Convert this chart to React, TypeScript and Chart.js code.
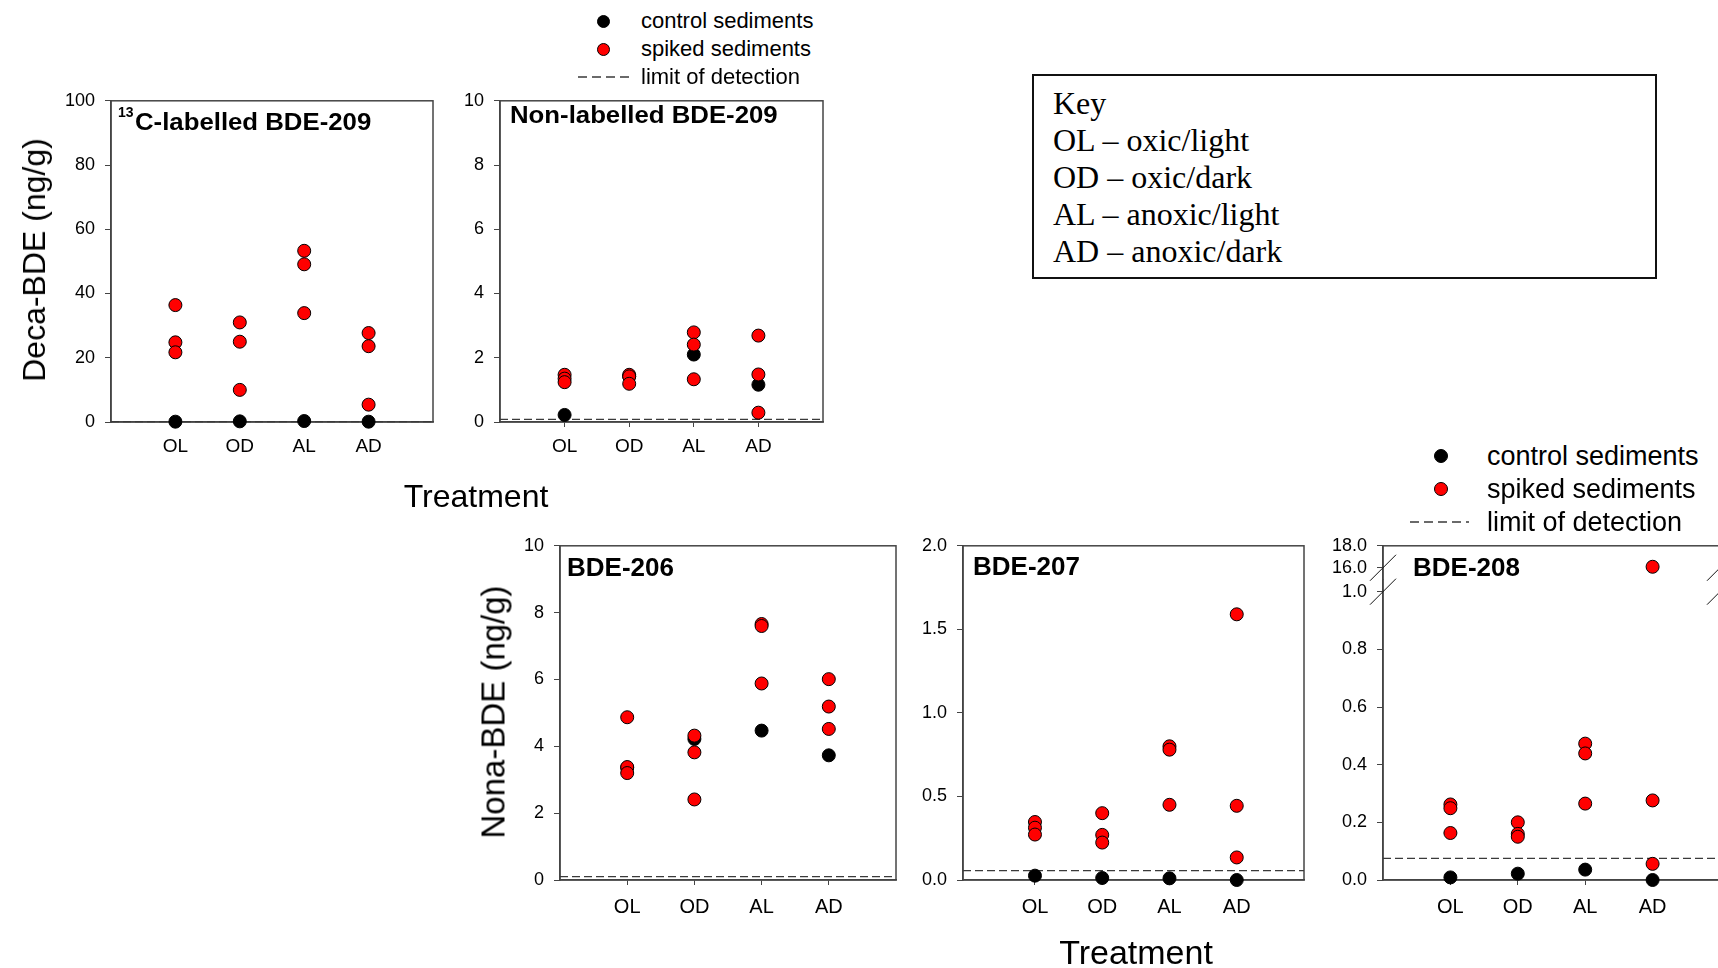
import React, { useEffect, useRef } from 'react';
import { Chart, registerables } from 'chart.js';

Chart.register(...registerables);

// ---------- data ----------
const categories = ['OL', 'OD', 'AL', 'AD'];

// 13C-labelled BDE-209 (ng/g)
const c13Control = [0.1, 0.2, 0.3, 0.1];
const c13Spiked = [[36.4, 24.8, 21.7], [31.0, 25.0, 10.0], [53.3, 49.1, 33.9], [27.7, 23.6, 5.4]];
const c13Lod = 0.1;
const c13Ticks = [0, 20, 40, 60, 80, 100];

// Non-labelled BDE-209 (ng/g)
const nlControl = [0.22, 1.42, 2.1, 1.16];
const nlSpiked = [[1.47, 1.35, 1.24], [1.47, 1.42, 1.19], [2.79, 2.41, 1.33], [2.69, 1.48, 0.29]];
const nlLod = 0.08;
const nlTicks = [0, 2, 4, 6, 8, 10];

// BDE-206 (ng/g)
const b206Control = [3.36, 4.22, 4.47, 3.73];
const b206Spiked = [[4.87, 3.38, 3.2], [4.32, 3.82, 2.41], [7.66, 7.6, 5.88], [6.01, 5.19, 4.52]];
const b206Lod = 0.1;
const b206Ticks = [0, 2, 4, 6, 8, 10];

// BDE-207 (ng/g)
const b207Control = [0.026, 0.012, 0.01, 0.0];
const b207Spiked = [[0.347, 0.313, 0.272], [0.4, 0.27, 0.224], [0.8, 0.78, 0.45], [1.59, 0.444, 0.135]];
const b207Lod = 0.056;
const b207Ticks = [0, 0.5, 1.0, 1.5, 2.0];

// BDE-208 (ng/g), broken axis
const b208Control = [0.009, 0.022, 0.036, 0.0];
const b208Spiked = [[0.262, 0.249, 0.163], [0.2, 0.16, 0.15], [0.473, 0.439, 0.265], [16.09, 0.276, 0.056]];
const b208Lod = 0.075;
const b208LowTicks = [0, 0.2, 0.4, 0.6, 0.8, 1.0];
const b208HighTicks = [16.0, 18.0];

// ---------- styling ----------
const SANS = "'Liberation Sans', Arial, sans-serif";
const SERIF = "'Liberation Serif', 'Times New Roman', serif";
const AXIS = '#444444';
const RED = '#ff0000';
const PAD_L = 90;
const PAD_T = 20;
const PAD_R = 20;
const PAD_B = 60;

type Broken = {
  lowMax: number;
  highMin: number;
  highMax: number;
  highTicks: number[];
  lowMark: number;
  highMark: number;
  lowWeight: number;
  highWeight: number;
};

type PanelSpec = {
  l: number; t: number; r: number; b: number;
  xMin: number; xMax: number;
  yMin: number; yMax: number; yTicks: number[]; decimals: number;
  control: number[]; spiked: number[][]; lod: number;
  tickFont: number; xFont: number; xPad: number;
  broken?: Broken;
};

const framePlugin = {
  id: 'frame',
  beforeDatasetsDraw(chart: any) {
    const { ctx, chartArea: a } = chart;
    ctx.save();
    ctx.strokeStyle = AXIS;
    ctx.lineWidth = 1.5;
    ctx.strokeRect(a.left, a.top, a.right - a.left, a.bottom - a.top);
    ctx.restore();
  },
};

function Panel({ spec }: { spec: PanelSpec }) {
  const ref = useRef<HTMLCanvasElement>(null);
  const w = spec.r - spec.l + PAD_L + PAD_R;
  const h = spec.b - spec.t + PAD_T + PAD_B;

  useEffect(() => {
    const canvas = ref.current as HTMLCanvasElement;
    const br = spec.broken;
    const black = spec.control.map((v, i) => ({ x: i + 1, y: v }));
    const allRed = spec.spiked.flatMap((vals, i) => vals.map((v) => ({ x: i + 1, y: v })));
    const redLow = br ? allRed.filter((p) => p.y <= br.lowMax) : allRed;
    const redHigh = br ? allRed.filter((p) => p.y > br.lowMax) : [];
    const pt = {
      pointRadius: 6.5,
      pointHoverRadius: 6.5,
      pointBorderWidth: 1,
      pointBorderColor: '#000000',
      showLine: false,
      clip: false as any,
    };
    const datasets: any[] = [
      { label: 'spiked sediments', data: redLow, pointBackgroundColor: RED, backgroundColor: RED, order: 0, yAxisID: 'y', ...pt },
      { label: 'control sediments', data: black, pointBackgroundColor: '#000', backgroundColor: '#000', order: 1, yAxisID: 'y', ...pt },
      {
        label: 'limit of detection',
        data: [{ x: spec.xMin, y: spec.lod }, { x: spec.xMax, y: spec.lod }],
        showLine: true,
        borderColor: '#3a3a3a',
        borderWidth: 1.3,
        borderDash: [8, 4],
        pointRadius: 0,
        order: 2,
        yAxisID: 'y',
        clip: false,
      },
    ];
    if (br) {
      datasets.push({ label: 'spiked high', data: redHigh, pointBackgroundColor: RED, backgroundColor: RED, order: 0, yAxisID: 'yTop', ...pt });
    }

    const grid = { display: true, drawOnChartArea: false, drawTicks: true, tickLength: 6, color: AXIS, lineWidth: 1 };
    const border = { display: true, color: AXIS, width: 1.5 };
    const yTickCfg = {
      font: { family: SANS, size: spec.tickFont },
      color: '#000',
      padding: 10,
      autoSkip: false,
      callback: (v: any) => Number(v).toFixed(spec.decimals),
    };

    const scales: any = {
      x: {
        type: 'linear',
        min: spec.xMin,
        max: spec.xMax,
        afterBuildTicks: (s: any) => {
          s.ticks = categories.map((_, i) => ({ value: i + 1 }));
        },
        ticks: {
          font: { family: SANS, size: spec.xFont },
          color: '#000',
          padding: spec.xPad,
          autoSkip: false,
          maxRotation: 0,
          callback: (v: any) => categories[Math.round(Number(v)) - 1] ?? '',
        },
        grid: { ...grid, tickLength: 5 },
        border,
        afterFit: (s: any) => {
          s.height = PAD_B;
        },
      },
      y: {
        type: 'linear',
        position: 'left',
        min: spec.yMin,
        max: spec.yMax,
        afterBuildTicks: (s: any) => {
          s.ticks = spec.yTicks.map((v) => ({ value: v }));
        },
        ticks: yTickCfg,
        grid,
        border,
        afterFit: (s: any) => {
          s.width = PAD_L;
        },
      },
    };
    if (br) {
      scales.y.stack = 'v';
      scales.y.stackWeight = br.lowWeight;
      scales.yTop = {
        type: 'linear',
        position: 'left',
        stack: 'v',
        stackWeight: br.highWeight,
        min: br.highMin,
        max: br.highMax,
        afterBuildTicks: (s: any) => {
          s.ticks = br.highTicks.map((v) => ({ value: v }));
        },
        ticks: yTickCfg,
        grid,
        border,
        afterFit: (s: any) => {
          s.width = PAD_L;
        },
      };
    }

    const plugins: any[] = [framePlugin];
    if (br) {
      plugins.push({
        id: 'breakMarks',
        afterDraw(chart: any) {
          const { ctx, chartArea: a } = chart;
          const ys = [chart.scales.yTop.getPixelForValue(br.highMark), chart.scales.y.getPixelForValue(br.lowMark)];
          ctx.save();
          ctx.strokeStyle = '#111';
          ctx.lineWidth = 1;
          for (const x of [a.left, a.right]) {
            for (const y of ys) {
              ctx.beginPath();
              ctx.moveTo(x - 13, y + 13);
              ctx.lineTo(x + 13, y - 13);
              ctx.stroke();
            }
          }
          ctx.restore();
        },
      });
    }

    const chart = new Chart(canvas, {
      type: 'scatter',
      data: { datasets },
      options: {
        responsive: false,
        animation: false,
        devicePixelRatio: 1,
        layout: { padding: { top: PAD_T, right: PAD_R, left: 0, bottom: 0 } },
        scales,
        plugins: { legend: { display: false }, tooltip: { enabled: false }, title: { display: false } },
        events: [],
      } as any,
      plugins,
    });
    return () => chart.destroy();
  }, []);

  return (
    <canvas
      ref={ref}
      width={w}
      height={h}
      style={{ position: 'absolute', left: spec.l - PAD_L, top: spec.t - PAD_T, width: w, height: h }}
    />
  );
}

const panels: PanelSpec[] = [
  {
    l: 111, t: 100, r: 433, b: 422, xMin: 0, xMax: 5, yMin: 0, yMax: 100, yTicks: c13Ticks, decimals: 0,
    control: c13Control, spiked: c13Spiked, lod: c13Lod, tickFont: 18, xFont: 19, xPad: 8,
  },
  {
    l: 500, t: 100, r: 823, b: 422, xMin: 0, xMax: 5, yMin: 0, yMax: 10, yTicks: nlTicks, decimals: 0,
    control: nlControl, spiked: nlSpiked, lod: nlLod, tickFont: 18, xFont: 19, xPad: 8,
  },
  {
    l: 560, t: 545, r: 896, b: 880, xMin: 0, xMax: 5, yMin: 0, yMax: 10, yTicks: b206Ticks, decimals: 0,
    control: b206Control, spiked: b206Spiked, lod: b206Lod, tickFont: 18, xFont: 20, xPad: 10,
  },
  {
    l: 963, t: 545, r: 1304, b: 880, xMin: -0.07, xMax: 5, yMin: 0, yMax: 2, yTicks: b207Ticks, decimals: 1,
    control: b207Control, spiked: b207Spiked, lod: b207Lod, tickFont: 18, xFont: 20, xPad: 10,
  },
  {
    l: 1383, t: 545, r: 1720, b: 880, xMin: 0, xMax: 5, yMin: 0, yMax: 1.0415, yTicks: b208LowTicks, decimals: 1,
    control: b208Control, spiked: b208Spiked, lod: b208Lod, tickFont: 18, xFont: 20, xPad: 10,
    broken: {
      lowMax: 1.0415, highMin: 14.91, highMax: 18, highTicks: b208HighTicks,
      lowMark: 1.0, highMark: 16.0, lowWeight: 301, highWeight: 34,
    },
  },
];

function Txt(props: { x: number; y: number; size: number; text: string; bold?: boolean; family?: string; sx?: number; anchor?: 'left' | 'center' }) {
  const { x, y, size, text, bold, family, sx, anchor } = props;
  const tx = anchor === 'center' ? 'translate(-50%, -50%)' : 'translateY(-50%)';
  return (
    <div
      style={{
        position: 'absolute',
        left: x,
        top: y,
        transform: `${tx}${sx ? ` scaleX(${sx})` : ''}`,
        transformOrigin: anchor === 'center' ? 'center center' : 'left center',
        whiteSpace: 'nowrap',
        fontFamily: family ?? SANS,
        fontSize: size,
        fontWeight: bold ? 'bold' : 'normal',
        lineHeight: 1,
        color: '#000',
      }}
    >
      {text}
    </div>
  );
}

function VTxt(props: { x: number; y: number; size: number; text: string }) {
  return (
    <div
      style={{
        position: 'absolute',
        left: props.x,
        top: props.y,
        transform: 'translate(-50%, -50%) rotate(-90deg)',
        whiteSpace: 'nowrap',
        fontFamily: SANS,
        fontSize: props.size,
        lineHeight: 1,
        color: '#000',
      }}
    >
      {props.text}
    </div>
  );
}

function Dot(props: { x: number; y: number; color: string; r: number }) {
  const d = props.r * 2;
  return (
    <div
      style={{
        position: 'absolute',
        left: props.x - props.r,
        top: props.y - props.r,
        width: d,
        height: d,
        boxSizing: 'border-box',
        borderRadius: '50%',
        background: props.color,
        border: '1px solid #000',
      }}
    />
  );
}

function Dash(props: { x1: number; x2: number; y: number }) {
  const w = props.x2 - props.x1;
  return (
    <svg style={{ position: 'absolute', left: props.x1, top: props.y - 2 }} width={w} height={4}>
      <line x1={0} y1={2} x2={w} y2={2} stroke="#3a3a3a" strokeWidth={1.3} strokeDasharray="9 5" />
    </svg>
  );
}

function Legend(props: { dotX: number; textX: number; ys: number[]; x1: number; x2: number; size: number; r: number }) {
  const { dotX, textX, ys, x1, x2, size, r } = props;
  return (
    <>
      <Dot x={dotX} y={ys[0]} color="#000" r={r} />
      <Dot x={dotX} y={ys[1]} color={RED} r={r} />
      <Dash x1={x1} x2={x2} y={ys[2]} />
      <Txt x={textX} y={ys[0]} size={size} text="control sediments" />
      <Txt x={textX} y={ys[1]} size={size} text="spiked sediments" />
      <Txt x={textX} y={ys[2]} size={size} text="limit of detection" />
    </>
  );
}

const keyLines = ['Key', 'OL \u2013 oxic/light', 'OD \u2013 oxic/dark', 'AL \u2013 anoxic/light', 'AD \u2013 anoxic/dark'];
const keyLineY = [103, 140, 176.5, 213.5, 251];

export default function App() {
  return (
    <div style={{ position: 'absolute', left: 0, top: 0, width: 1718, height: 968, overflow: 'hidden', background: '#fff' }}>
      {panels.map((p, i) => (
        <Panel key={i} spec={p} />
      ))}

      {/* panel titles */}
      <Txt x={118} y={112} size={14} bold text="13" />
      <Txt x={135} y={122} size={23} bold sx={1.12} text="C-labelled BDE-209" />
      <Txt x={510} y={115} size={23} bold sx={1.12} text="Non-labelled BDE-209" />
      <Txt x={567} y={567} size={26} bold text="BDE-206" />
      <Txt x={973} y={566} size={26} bold text="BDE-207" />
      <Txt x={1413} y={567} size={26} bold text="BDE-208" />

      {/* axis titles */}
      <VTxt x={34} y={260} size={32} text="Deca-BDE (ng/g)" />
      <VTxt x={493} y={712} size={33} text="Nona-BDE (ng/g)" />
      <Txt x={476} y={496} size={32} anchor="center" text="Treatment" />
      <Txt x={1136} y={952} size={34} anchor="center" text="Treatment" />

      {/* legends */}
      <Legend dotX={603} textX={641} ys={[21, 49, 77]} x1={578} x2={629} size={22} r={6.5} />
      <Legend dotX={1441} textX={1487} ys={[456, 489, 522]} x1={1410} x2={1469} size={27} r={7} />

      {/* key box */}
      <div
        style={{
          position: 'absolute',
          left: 1032,
          top: 74,
          width: 625,
          height: 205,
          boxSizing: 'border-box',
          border: '2px solid #111',
        }}
      />
      {keyLines.map((t, i) => (
        <Txt key={t} x={1053} y={keyLineY[i]} size={32} family={SERIF} text={t} />
      ))}
    </div>
  );
}
